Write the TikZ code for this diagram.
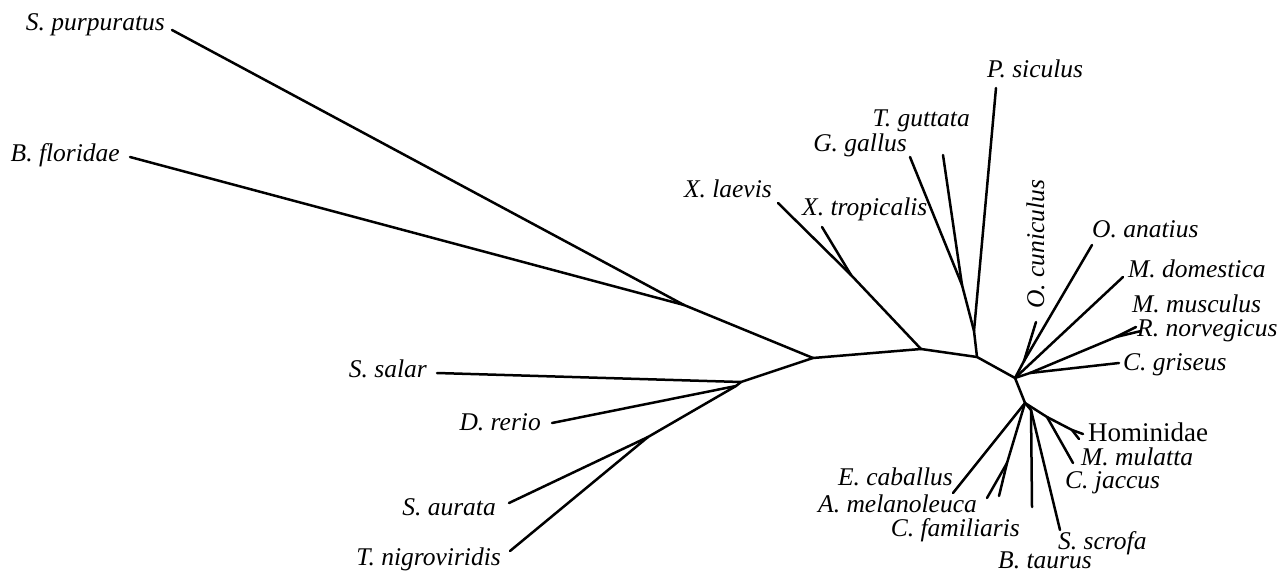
\documentclass[tikz,border=0pt]{standalone}
\usepackage{fontspec}
\setmainfont{Liberation Serif}
\begin{document}
\begin{tikzpicture}[x=1pt,y=-1pt,
  branch/.style={line width=2.5pt, line cap=round, line join=round},
  taxon/.style={inner sep=0pt, font=\fontsize{25.5}{30}\selectfont\itshape},
  group/.style={inner sep=0pt, font=\fontsize{27}{32}\selectfont}]
\useasboundingbox (0,0) rectangle (1279,572);

% ---- internal nodes of the tree ----
\coordinate (P1) at (684,305);
\coordinate (P2) at (813,358);
\coordinate (F)  at (741,382);
\coordinate (F2) at (736,386);
\coordinate (G)  at (648,437);
\coordinate (P3) at (921,349);
\coordinate (Xn) at (851,275);
\coordinate (P4) at (977,357);
\coordinate (R)  at (974,331);
\coordinate (B)  at (962,285);
\coordinate (P5) at (1015,378);
\coordinate (J1) at (1024,361);
\coordinate (Gl) at (1030,373);
\coordinate (Rd) at (1116,337);
\coordinate (P6) at (1025,403);
\coordinate (Prim) at (1047,417);
\coordinate (Cat) at (1072,430);
\coordinate (Art) at (1031,410);
\coordinate (Carn) at (1007,463);

% ---- branch tips ----
\coordinate (tpurp) at (172,30);
\coordinate (tflor) at (130,157);
\coordinate (tsalar) at (437,373);
\coordinate (trerio) at (552,423);
\coordinate (taur) at (509,503);
\coordinate (tnigro) at (510,551);
\coordinate (tlaev) at (778,203);
\coordinate (ttrop) at (822,227);
\coordinate (tgall) at (910,157);
\coordinate (tgutt) at (943,155);
\coordinate (tsic) at (996,88);
\coordinate (tcun) at (1036,322);
\coordinate (tana) at (1092,245);
\coordinate (tdom) at (1123,277);
\coordinate (tmus) at (1136,327);
\coordinate (tnor) at (1141,331);
\coordinate (tgri) at (1119,363);
\coordinate (thom) at (1083,434);
\coordinate (tmul) at (1079,439);
\coordinate (tjac) at (1073,463);
\coordinate (tcab) at (953,493);
\coordinate (tmel) at (987,498);
\coordinate (tfam) at (999,496);
\coordinate (ttau) at (1032,507);
\coordinate (tscr) at (1060,530);

% ---- branches ----
\draw[branch] (tpurp) -- (P1);
\draw[branch] (tflor) -- (P1);
\draw[branch] (P1) -- (P2);
\draw[branch] (P2) -- (F);
\draw[branch] (F) -- (tsalar);
\draw[branch] (F) -- (F2);
\draw[branch] (F2) -- (trerio);
\draw[branch] (F2) -- (G);
\draw[branch] (G) -- (taur);
\draw[branch] (G) -- (tnigro);
\draw[branch] (P2) -- (P3);
\draw[branch] (P3) -- (Xn);
\draw[branch] (Xn) -- (tlaev);
\draw[branch] (Xn) -- (ttrop);
\draw[branch] (P3) -- (P4);
\draw[branch] (P4) -- (R);
\draw[branch] (R) -- (tsic);
\draw[branch] (R) -- (B);
\draw[branch] (B) -- (tgall);
\draw[branch] (B) -- (tgutt);
\draw[branch] (P4) -- (P5);
\draw[branch] (P5) -- (J1);
\draw[branch] (J1) -- (tcun);
\draw[branch] (J1) -- (tana);
\draw[branch] (P5) -- (tdom);
\draw[branch] (P5) -- (Gl);
\draw[branch] (Gl) -- (Rd);
\draw[branch] (Rd) -- (tmus);
\draw[branch] (Rd) -- (tnor);
\draw[branch] (Gl) -- (tgri);
\draw[branch] (P5) -- (P6);
\draw[branch] (P6) -- (Prim);
\draw[branch] (Prim) -- (Cat);
\draw[branch] (Cat) -- (thom);
\draw[branch] (Cat) -- (tmul);
\draw[branch] (Prim) -- (tjac);
\draw[branch] (P6) -- (tcab);
\draw[branch] (P6) -- (Carn);
\draw[branch] (Carn) -- (tmel);
\draw[branch] (Carn) -- (tfam);
\draw[branch] (P6) -- (Art);
\draw[branch] (Art) -- (ttau);
\draw[branch] (Art) -- (tscr);

% ---- taxon labels ----
\node[taxon, anchor=base east] (lpurp) at (165,31) {S. purpuratus};
\node[taxon, anchor=base east] (lflor) at (120,162) {B. floridae};
\node[taxon, anchor=base east] (lsalar) at (427,377) {S. salar};
\node[taxon, anchor=base east] (lrerio) at (541,430) {D. rerio};
\node[taxon, anchor=base east] (laur) at (496,515) {S. aurata};
\node[taxon, anchor=base east] (lnigro) at (501,565) {T. nigroviridis};
\node[taxon, anchor=base east] (llaev) at (772,198) {X. laevis};
\node[taxon, anchor=base west] (ltrop) at (802,215) {X. tropicalis};
\node[taxon, anchor=base east] (lgall) at (907,152) {G. gallus};
\node[taxon, anchor=base east] (lgutt) at (970,127) {T. guttata};
\node[taxon, anchor=base west] (lsic) at (987,78) {P. siculus};
\node[taxon, anchor=base west, rotate=90] (lcun) at (1044,309) {O. cuniculus};
\node[taxon, anchor=base west] (lana) at (1092,237) {O. anatius};
\node[taxon, anchor=base west] (ldom) at (1128,277) {M. domestica};
\node[taxon, anchor=base west] (lmus) at (1132,312) {M. musculus};
\node[taxon, anchor=base west] (lnor) at (1137,336) {R. norvegicus};
\node[taxon, anchor=base west] (lgri) at (1123,370) {C. griseus};
\node[group, anchor=base west] (lhom) at (1088,441) {Hominidae};
\node[taxon, anchor=base west] (lmul) at (1081,465) {M. mulatta};
\node[taxon, anchor=base west] (ljac) at (1065,488) {C. jaccus};
\node[taxon, anchor=base east] (lcab) at (953,485) {E. caballus};
\node[taxon, anchor=base east] (lmel) at (977,512) {A. melanoleuca};
\node[taxon, anchor=base east] (lfam) at (1020,536) {C. familiaris};
\node[taxon, anchor=base west] (lscr) at (1058,549) {S. scrofa};
\node[taxon, anchor=base west] (ltau) at (998,568) {B. taurus};
\end{tikzpicture}
\end{document}
